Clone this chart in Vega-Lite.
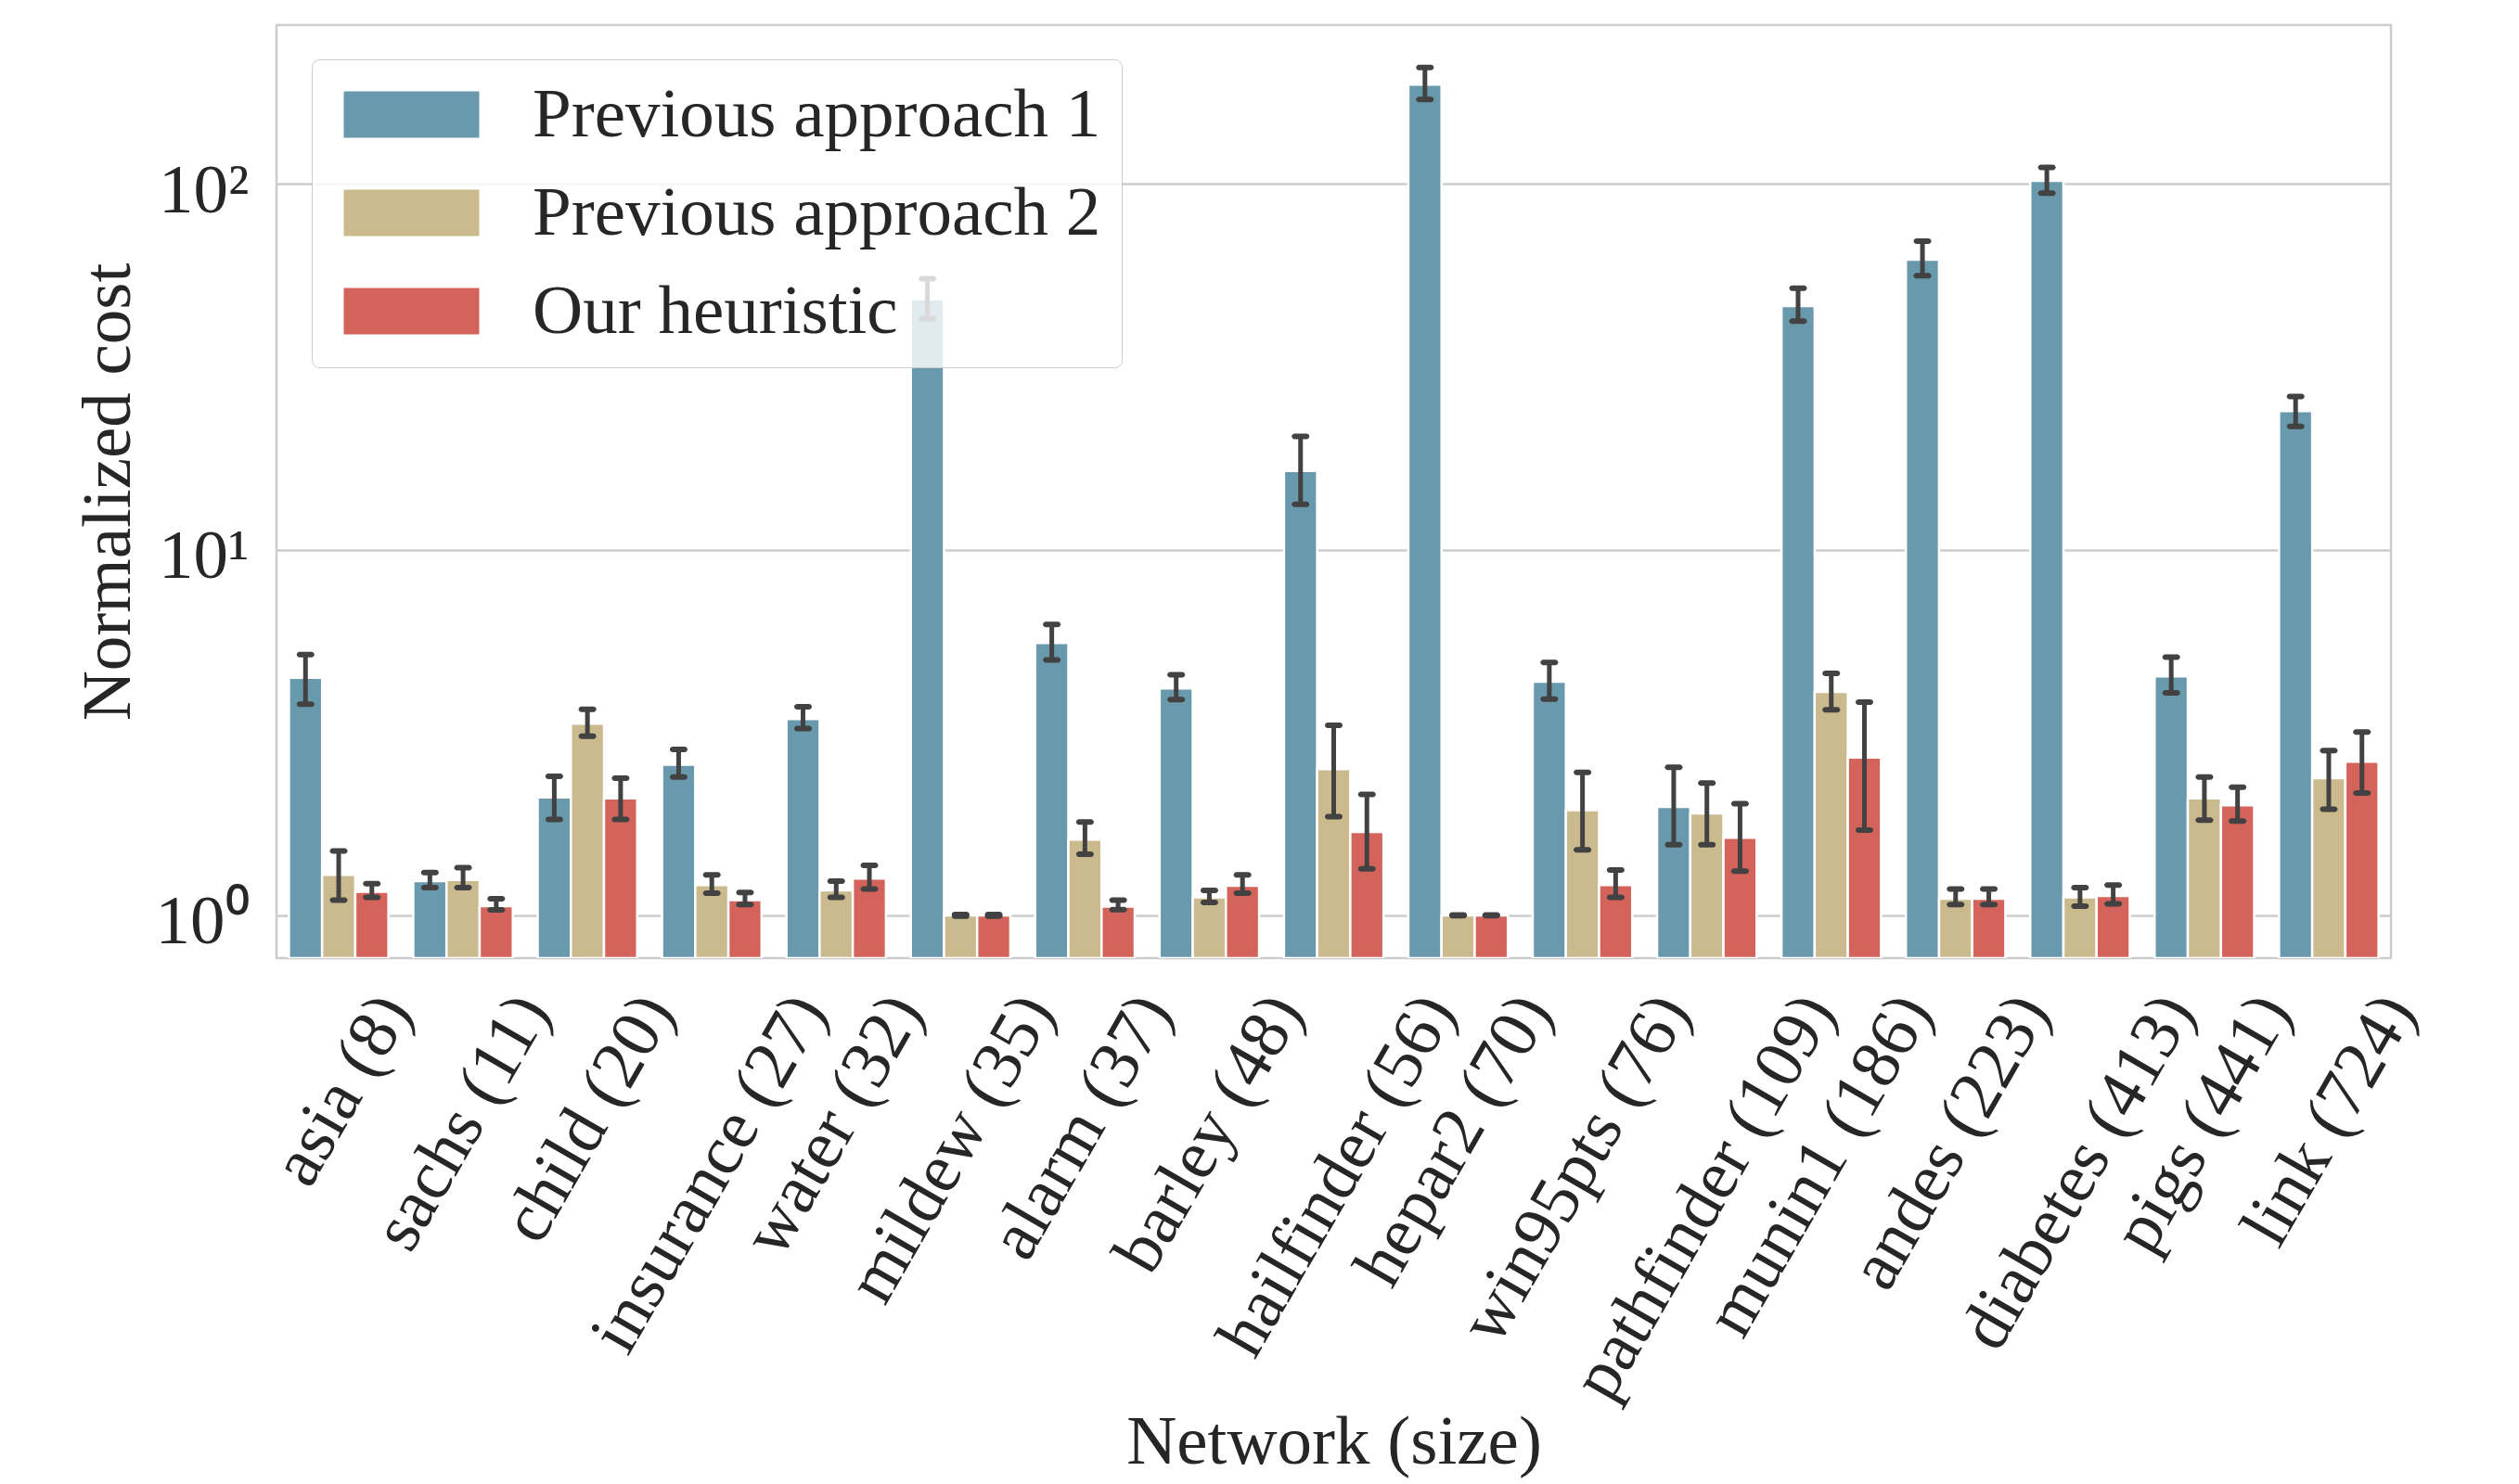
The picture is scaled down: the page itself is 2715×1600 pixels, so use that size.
{
  "$schema": "https://vega.github.io/schema/vega-lite/v6.json",
  "width": 2279,
  "height": 1006,
  "autosize": {"type": "none"},
  "padding": {"left": 298, "top": 27, "right": 138, "bottom": 567},
  "background": "white",
  "config": {
    "view": {"stroke": "#cccccc", "strokeWidth": 2.5},
    "font": "Liberation Serif",
    "axis": {
      "labelFont": "Liberation Serif",
      "titleFont": "Liberation Serif",
      "labelColor": "#262626",
      "titleColor": "#262626",
      "labelFontSize": 75,
      "titleFontSize": 75,
      "titleFontWeight": "normal",
      "domain": false,
      "ticks": false,
      "gridColor": "#cccccc",
      "gridWidth": 2.5
    }
  },
  "data": {
    "values": [
      {"network": "asia (8)", "method": "Previous approach 1", "value": 4.46, "lo": 3.78, "hi": 5.16},
      {"network": "asia (8)", "method": "Previous approach 2", "value": 1.29, "lo": 1.10, "hi": 1.50},
      {"network": "asia (8)", "method": "Our heuristic", "value": 1.16, "lo": 1.12, "hi": 1.22},
      {"network": "sachs (11)", "method": "Previous approach 1", "value": 1.24, "lo": 1.19, "hi": 1.31},
      {"network": "sachs (11)", "method": "Previous approach 2", "value": 1.25, "lo": 1.19, "hi": 1.35},
      {"network": "sachs (11)", "method": "Our heuristic", "value": 1.06, "lo": 1.035, "hi": 1.11},
      {"network": "child (20)", "method": "Previous approach 1", "value": 2.10, "lo": 1.83, "hi": 2.40},
      {"network": "child (20)", "method": "Previous approach 2", "value": 3.34, "lo": 3.09, "hi": 3.66},
      {"network": "child (20)", "method": "Our heuristic", "value": 2.09, "lo": 1.83, "hi": 2.37},
      {"network": "insurance (27)", "method": "Previous approach 1", "value": 2.58, "lo": 2.39, "hi": 2.84},
      {"network": "insurance (27)", "method": "Previous approach 2", "value": 1.21, "lo": 1.15, "hi": 1.29},
      {"network": "insurance (27)", "method": "Our heuristic", "value": 1.10, "lo": 1.07, "hi": 1.155},
      {"network": "water (32)", "method": "Previous approach 1", "value": 3.44, "lo": 3.24, "hi": 3.72},
      {"network": "water (32)", "method": "Previous approach 2", "value": 1.17, "lo": 1.12, "hi": 1.24},
      {"network": "water (32)", "method": "Our heuristic", "value": 1.26, "lo": 1.18, "hi": 1.37},
      {"network": "mildew (35)", "method": "Previous approach 1", "value": 48.3, "lo": 42.8, "hi": 55.0},
      {"network": "mildew (35)", "method": "Previous approach 2", "value": 1.0, "lo": 0.995, "hi": 1.005},
      {"network": "mildew (35)", "method": "Our heuristic", "value": 1.0, "lo": 0.995, "hi": 1.005},
      {"network": "alarm (37)", "method": "Previous approach 1", "value": 5.55, "lo": 4.99, "hi": 6.24},
      {"network": "alarm (37)", "method": "Previous approach 2", "value": 1.61, "lo": 1.47, "hi": 1.80},
      {"network": "alarm (37)", "method": "Our heuristic", "value": 1.056, "lo": 1.037, "hi": 1.10},
      {"network": "barley (48)", "method": "Previous approach 1", "value": 4.17, "lo": 3.89, "hi": 4.55},
      {"network": "barley (48)", "method": "Previous approach 2", "value": 1.12, "lo": 1.085, "hi": 1.17},
      {"network": "barley (48)", "method": "Our heuristic", "value": 1.205, "lo": 1.15, "hi": 1.29},
      {"network": "hailfinder (56)", "method": "Previous approach 1", "value": 16.4, "lo": 13.3, "hi": 20.4},
      {"network": "hailfinder (56)", "method": "Previous approach 2", "value": 2.51, "lo": 1.86, "hi": 3.31},
      {"network": "hailfinder (56)", "method": "Our heuristic", "value": 1.69, "lo": 1.34, "hi": 2.14},
      {"network": "hepar2 (70)", "method": "Previous approach 1", "value": 186.6, "lo": 169.9, "hi": 208.0},
      {"network": "hepar2 (70)", "method": "Previous approach 2", "value": 1.0, "lo": 0.998, "hi": 1.002},
      {"network": "hepar2 (70)", "method": "Our heuristic", "value": 1.0, "lo": 0.998, "hi": 1.002},
      {"network": "win95pts (76)", "method": "Previous approach 1", "value": 4.35, "lo": 3.90, "hi": 4.91},
      {"network": "win95pts (76)", "method": "Previous approach 2", "value": 1.94, "lo": 1.51, "hi": 2.46},
      {"network": "win95pts (76)", "method": "Our heuristic", "value": 1.21, "lo": 1.12, "hi": 1.33},
      {"network": "pathfinder (109)", "method": "Previous approach 1", "value": 1.98, "lo": 1.56, "hi": 2.54},
      {"network": "pathfinder (109)", "method": "Previous approach 2", "value": 1.90, "lo": 1.56, "hi": 2.30},
      {"network": "pathfinder (109)", "method": "Our heuristic", "value": 1.63, "lo": 1.32, "hi": 2.02},
      {"network": "munin1 (186)", "method": "Previous approach 1", "value": 46.3, "lo": 42.1, "hi": 51.8},
      {"network": "munin1 (186)", "method": "Previous approach 2", "value": 4.08, "lo": 3.65, "hi": 4.59},
      {"network": "munin1 (186)", "method": "Our heuristic", "value": 2.70, "lo": 1.71, "hi": 3.83},
      {"network": "andes (223)", "method": "Previous approach 1", "value": 62.0, "lo": 56.1, "hi": 69.7},
      {"network": "andes (223)", "method": "Previous approach 2", "value": 1.11, "lo": 1.07, "hi": 1.18},
      {"network": "andes (223)", "method": "Our heuristic", "value": 1.11, "lo": 1.07, "hi": 1.18},
      {"network": "diabetes (413)", "method": "Previous approach 1", "value": 101.9, "lo": 94.2, "hi": 110.9},
      {"network": "diabetes (413)", "method": "Previous approach 2", "value": 1.12, "lo": 1.06, "hi": 1.19},
      {"network": "diabetes (413)", "method": "Our heuristic", "value": 1.13, "lo": 1.075, "hi": 1.21},
      {"network": "pigs (441)", "method": "Previous approach 1", "value": 4.50, "lo": 4.06, "hi": 5.08},
      {"network": "pigs (441)", "method": "Previous approach 2", "value": 2.09, "lo": 1.82, "hi": 2.39},
      {"network": "pigs (441)", "method": "Our heuristic", "value": 2.00, "lo": 1.81, "hi": 2.24},
      {"network": "link (724)", "method": "Previous approach 1", "value": 23.9, "lo": 21.7, "hi": 26.2},
      {"network": "link (724)", "method": "Previous approach 2", "value": 2.37, "lo": 1.95, "hi": 2.82},
      {"network": "link (724)", "method": "Our heuristic", "value": 2.63, "lo": 2.16, "hi": 3.17}
    ]
  },
  "encoding": {
    "x": {
      "field": "network",
      "type": "nominal",
      "sort": null,
      "scale": {"paddingInner": 0.2, "paddingOuter": 0.1},
      "axis": {
        "title": "Network (size)",
        "labelAngle": -60,
        "labelAlign": "right",
        "labelBaseline": "middle",
        "labelPadding": 45,
        "labelOffset": {"expr": "length(datum.label) * 7.5"},
        "labelLimit": 1000,
        "labelOverlap": false,
        "titleBaseline": "alphabetic",
        "titleY": 544,
        "grid": false
      }
    },
    "xOffset": {
      "field": "method",
      "type": "nominal",
      "scale": {
        "domain": ["Previous approach 1", "Previous approach 2", "Our heuristic"],
        "paddingInner": 0,
        "paddingOuter": 0
      }
    }
  },
  "layer": [
    {
      "mark": {"type": "bar", "stroke": "white", "strokeWidth": 2.5, "clip": true},
      "encoding": {
        "y": {
          "field": "value",
          "type": "quantitative",
          "scale": {"type": "log", "domain": [0.764, 271.6], "nice": false},
          "axis": {
            "title": "Normalized cost",
            "values": [1, 10, 100],
            "labelExpr": "datum.value == 1 ? '10⁰' : datum.value == 10 ? '10¹' : '10²'",
            "labelPadding": 30,
            "labelBaseline": "alphabetic",
            "labelOffset": 30,
            "titlePadding": 12,
            "grid": true
          }
        },
        "y2": {"datum": 0.764},
        "color": {
          "field": "method",
          "type": "nominal",
          "scale": {
            "domain": ["Previous approach 1", "Previous approach 2", "Our heuristic"],
            "range": ["#6899ac", "#cbba8e", "#d3635b"]
          },
          "legend": {
            "title": null,
            "orient": "none",
            "legendX": 38,
            "legendY": 37,
            "direction": "vertical",
            "symbolType": "M-1,-1H4.84V1H-1Z",
            "symbolSize": 2500,
            "symbolStrokeWidth": 0,
            "symbolOpacity": 1,
            "labelFont": "Liberation Serif",
            "labelFontSize": 75,
            "labelColor": "#262626",
            "labelOffset": 141,
            "labelLimit": 1000,
            "rowPadding": 30,
            "padding": 22,
            "fillColor": "rgba(255,255,255,0.8)",
            "strokeColor": "#cccccc",
            "cornerRadius": 8
          }
        }
      }
    },
    {
      "mark": {"type": "rule", "color": "#424242", "strokeWidth": 5},
      "encoding": {
        "y": {"field": "lo", "type": "quantitative"},
        "y2": {"field": "hi"}
      }
    },
    {
      "mark": {"type": "tick", "color": "#424242", "thickness": 6, "size": 19, "cornerRadius": 3, "opacity": 1},
      "encoding": {"y": {"field": "lo", "type": "quantitative"}}
    },
    {
      "mark": {"type": "tick", "color": "#424242", "thickness": 6, "size": 19, "cornerRadius": 3, "opacity": 1},
      "encoding": {"y": {"field": "hi", "type": "quantitative"}}
    }
  ]
}
